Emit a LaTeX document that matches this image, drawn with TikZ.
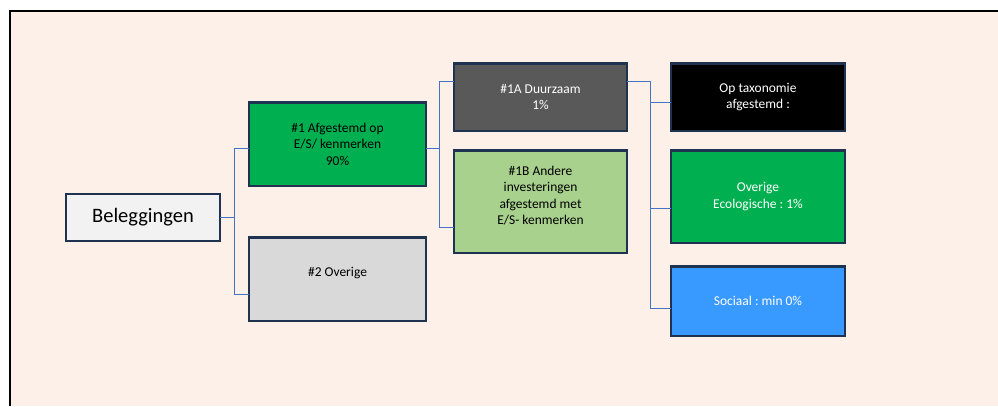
\documentclass[tikz,border=0pt]{standalone}
\usepackage{fontspec}
\setmainfont{Carlito}
\frenchspacing
\usetikzlibrary{positioning}
\definecolor{peach}{HTML}{FDF0E8}
\definecolor{navy}{HTML}{1F3250}
\definecolor{link}{HTML}{4472C4}
\definecolor{esgreen}{HTML}{00B050}
\definecolor{lightgreen}{HTML}{A9D18E}
\definecolor{darkgray}{HTML}{595959}
\definecolor{midgray}{HTML}{D9D9D9}
\definecolor{palegray}{HTML}{F2F2F2}
\definecolor{socblue}{HTML}{3899FF}

\begin{document}
\begin{tikzpicture}[-,thick,font=\fontsize{11.5}{14}\selectfont,
 box/.style={rectangle,draw=navy,line width=2pt,outer sep=0pt,align=center,inner sep=2pt},
 link/.style={draw=link,line width=1.1pt}]
 % page and frame
 \useasboundingbox (0,0) rectangle (29.94,-12.18);
 \fill[peach] (0.3,-0.33) rectangle (29.94,-12.18);
 \draw[line width=1.7pt] (0.3,-12.18) -- (0.3,-0.33) -- (29.94,-0.33);

 % boxes
 \node[box,fill=palegray,minimum width=4.61cm,minimum height=1.4cm,font=\fontsize{17.5}{21}\selectfont] (bel) at (4.29,-6.525) {Beleggingen};
 \node[box,fill=esgreen,minimum width=5.3cm,minimum height=2.51cm] (e1) [right=0.88cm of bel,yshift=2.2cm] {\#1 Afgestemd op\\E/S/ kenmerken\\90\%};
 \node[box,fill=midgray,minimum width=5.3cm,minimum height=2.51cm] (ov) [below=1.54cm of e1] {\#2 Overige\\[-0.07cm]};
 \node[box,fill=darkgray,text=white,minimum width=5.18cm,minimum height=2.03cm] (d1a) [right=0.85cm of e1,yshift=1.41cm] {\#1A Duurzaam\\1\%};
 \node[box,fill=lightgreen,minimum width=5.18cm,minimum height=3.08cm] (d1b) [below=0.58cm of d1a] {\#1B Andere\\investeringen\\afgestemd met\\E/S- kenmerken\\[-0.1cm]};
 \node[box,fill=black,text=white,minimum width=5.21cm,minimum height=2.03cm] (tax) [right=1.33cm of d1a] {Op taxonomie\\afgestemd :};
 \node[box,fill=esgreen,text=white,minimum width=5.21cm,minimum height=2.78cm] (eco) [below=0.58cm of tax] {Overige\\Ecologische : 1\%};
 \node[box,fill=socblue,text=white,minimum width=5.21cm,minimum height=2.09cm] (soc) [below=0.7cm of eco] {Sociaal : min 0\%};

 % elbow connectors
 \draw[link] (bel.east) -- ++(0.43,0) |- ([yshift=-0.12cm]e1.west);
 \draw[link] (bel.east) -- ++(0.43,0) |- ([yshift=-0.45cm]ov.west);
 \draw[link] ([yshift=-0.12cm]e1.east) -- ++(0.4,0) |- ([yshift=0.48cm]d1a.west);
 \draw[link] ([yshift=-0.12cm]e1.east) -- ++(0.4,0) |- ([yshift=-0.78cm]d1b.west);
 \draw[link] ([yshift=0.48cm]d1a.east) -- ++(0.7,0) |- ([yshift=-0.15cm]tax.west);
 \draw[link] ([yshift=0.48cm]d1a.east) -- ++(0.7,0) |- ([yshift=-0.345cm]eco.west);
 \draw[link] ([yshift=0.48cm]d1a.east) -- ++(0.7,0) |- ([yshift=-0.21cm]soc.west);
\end{tikzpicture}
\end{document}
